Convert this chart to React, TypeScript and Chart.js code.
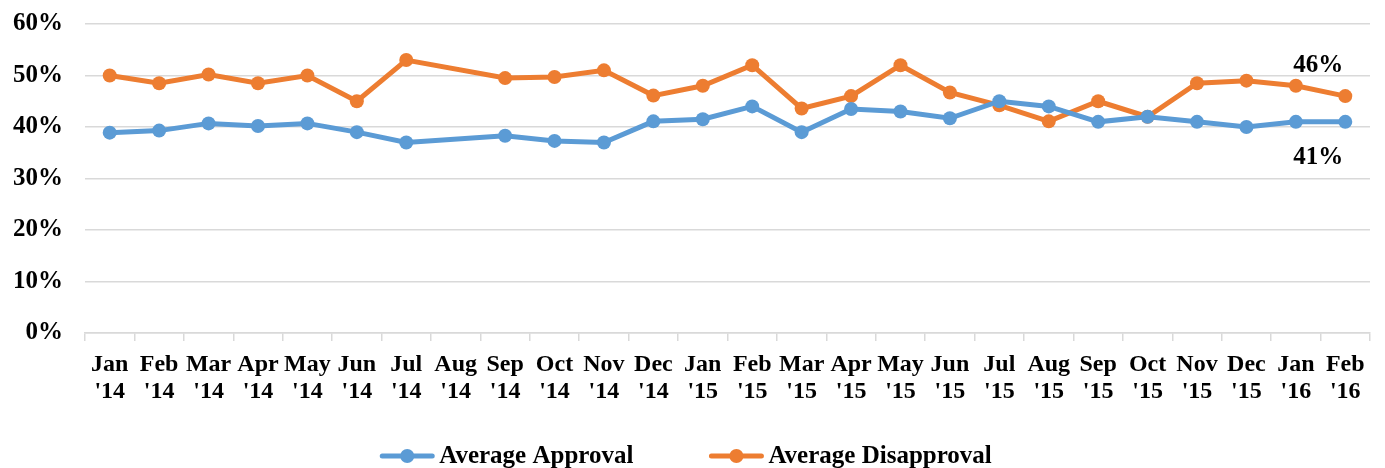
import React, { useEffect, useRef } from "react";
import { Chart, registerables } from "chart.js";

Chart.register(...registerables);

const months: string[] = [
  "Jan", "Feb", "Mar", "Apr", "May", "Jun", "Jul", "Aug", "Sep", "Oct", "Nov", "Dec",
  "Jan", "Feb", "Mar", "Apr", "May", "Jun", "Jul", "Aug", "Sep", "Oct", "Nov", "Dec",
  "Jan", "Feb",
];
const years: string[] = [
  "'14", "'14", "'14", "'14", "'14", "'14", "'14", "'14", "'14", "'14", "'14", "'14",
  "'15", "'15", "'15", "'15", "'15", "'15", "'15", "'15", "'15", "'15", "'15", "'15",
  "'16", "'16",
];

const approval: (number | null)[] = [
  38.9, 39.3, 40.7, 40.2, 40.7, 39.0, 37.0, null, 38.3, 37.3, 37.0, 41.1,
  41.5, 44.0, 39.0, 43.5, 43.0, 41.7, 45.0, 44.0, 41.0, 42.0, 41.0, 40.0,
  41.0, 41.0,
];
const disapproval: (number | null)[] = [
  50.0, 48.5, 50.2, 48.5, 50.0, 45.0, 53.0, null, 49.5, 49.7, 51.0, 46.1,
  48.0, 52.0, 43.6, 46.0, 52.0, 46.7, 44.2, 41.1, 45.0, 42.0, 48.5, 49.0,
  48.0, 46.0,
];
const seriesNames: string[] = ["Average Approval", "Average Disapproval"];
const endLabels: string[] = ["41%", "46%"];
const yTicks: number[] = [0, 10, 20, 30, 40, 50, 60];

const BLUE = "#5B9BD5";
const ORANGE = "#ED7D31";
const FONT = "'Liberation Serif', serif";

export default function App() {
  const ref = useRef<HTMLCanvasElement | null>(null);

  useEffect(() => {
    document.body.style.margin = "0";
    const canvas = ref.current;
    if (!canvas) return;

    const endLabelPlugin = {
      id: "endLabels",
      afterDatasetsDraw(chart: any) {
        const ctx = chart.ctx;
        ctx.save();
        ctx.font = `bold 25px ${FONT}`;
        ctx.fillStyle = "#000";
        ctx.textAlign = "right";
        ctx.textBaseline = "middle";
        chart.data.datasets.forEach((ds: any, i: number) => {
          const meta = chart.getDatasetMeta(i);
          const pt = meta.data[meta.data.length - 1];
          if (!pt) return;
          const dy = i === 0 ? 36 : -31;
          ctx.fillText(endLabels[i], pt.x - 2, pt.y + dy);
        });
        ctx.restore();
      },
    };

    const legendPlugin = {
      id: "customLegend",
      afterDraw(chart: any) {
        const ctx = chart.ctx;
        ctx.save();
        ctx.font = `bold 25px ${FONT}`;
        const markW = 54;
        const gapText = 5;
        const gapItems = 76;
        const widths = seriesNames.map((n) => ctx.measureText(n).width);
        const total = markW * 2 + gapText * 2 + widths[0] + widths[1] + gapItems;
        let x = 686 - total / 2;
        const y = 456;
        const colors = [BLUE, ORANGE];
        seriesNames.forEach((name, i) => {
          ctx.strokeStyle = colors[i];
          ctx.lineWidth = 5;
          ctx.lineCap = "round";
          ctx.beginPath();
          ctx.moveTo(x + 2, y);
          ctx.lineTo(x + markW - 2, y);
          ctx.stroke();
          ctx.fillStyle = colors[i];
          ctx.beginPath();
          ctx.arc(x + markW / 2, y, 7, 0, Math.PI * 2);
          ctx.fill();
          ctx.fillStyle = "#000";
          ctx.textAlign = "left";
          ctx.textBaseline = "middle";
          ctx.fillText(name, x + markW + gapText, y + 1);
          x += markW + gapText + widths[i] + gapItems;
        });
        ctx.restore();
      },
    };

    const chart = new Chart(canvas, {
      type: "line",
      data: {
        labels: months.map((m, i) => [m, years[i]]),
        datasets: [
          {
            label: seriesNames[0],
            data: approval,
            borderColor: BLUE,
            backgroundColor: BLUE,
            borderWidth: 5,
            pointRadius: 7,
            pointHoverRadius: 7,
            pointBackgroundColor: BLUE,
            pointBorderWidth: 0,
            spanGaps: true,
            tension: 0,
          },
          {
            label: seriesNames[1],
            data: disapproval,
            borderColor: ORANGE,
            backgroundColor: ORANGE,
            borderWidth: 5,
            pointRadius: 7,
            pointHoverRadius: 7,
            pointBackgroundColor: ORANGE,
            pointBorderWidth: 0,
            spanGaps: true,
            tension: 0,
          },
        ],
      },
      options: {
        animation: false,
        responsive: false,
        layout: { padding: { top: 24, right: 15, left: 0, bottom: 0 } },
        plugins: {
          legend: { display: false },
          tooltip: { enabled: false },
        },
        scales: {
          x: {
            offset: true,
            afterFit: (s: any) => {
              s.height = 135;
              s.paddingLeft = 0;
              s.paddingRight = 0;
            },
            grid: {
              offset: true,
              drawOnChartArea: false,
              drawTicks: true,
              tickLength: 8,
              color: "#d9d9d9",
              lineWidth: 1.5,
            },
            border: { display: true, color: "#d9d9d9", width: 1.5 },
            ticks: {
              color: "#000",
              font: { family: FONT, weight: "bold", size: 24, lineHeight: 1.13 },
              padding: 10,
              maxRotation: 0,
              autoSkip: false,
            },
          },
          y: {
            min: 0,
            max: 60,
            afterFit: (s: any) => {
              s.width = 85;
              s.paddingTop = 0;
              s.paddingBottom = 0;
            },
            afterBuildTicks: (s: any) => {
              s.ticks = yTicks.map((v) => ({ value: v }));
            },
            grid: {
              drawTicks: false,
              color: "#d9d9d9",
              lineWidth: 1.5,
            },
            border: { display: false },
            ticks: {
              color: "#000",
              font: { family: FONT, weight: "bold", size: 25 },
              padding: 22,
              callback: (v: any) => `${v}%`,
            },
          },
        },
      },
      plugins: [endLabelPlugin, legendPlugin],
    });

    return () => chart.destroy();
  }, []);

  return (
    <div style={{ width: 1385, height: 468 }}>
      <canvas ref={ref} width={1385} height={468} style={{ display: "block" }} />
    </div>
  );
}
